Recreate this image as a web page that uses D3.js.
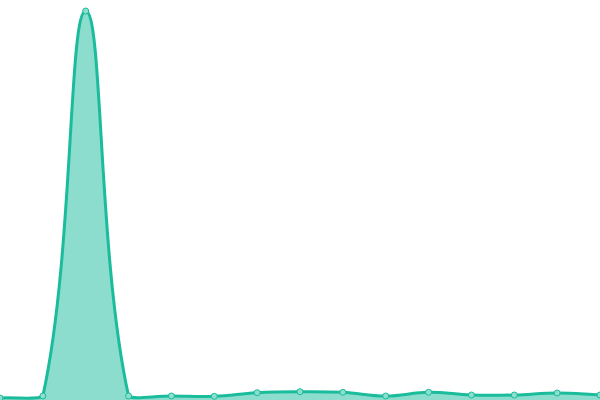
<!DOCTYPE html>
<html>
<head>
<meta charset="utf-8">
<script src="https://d3js.org/d3.v7.min.js"></script>
<style>
  html, body { margin: 0; padding: 0; background: #fff; }
  svg { display: block; }
</style>
</head>
<body>
<div id="chart"></div>
<script>
// categories along x (no visible axis)
var labels = ["1", "2", "3", "4", "5", "6", "7", "8", "9", "10", "11", "12", "13", "14", "15"];
// series values
var values = [2, 4, 389, 4, 4, 3.7, 7.3, 8.3, 7.7, 4, 7.7, 5, 5, 7, 5];
var yMax = 400;

var width = 600, height = 400;

var svg = d3.select("#chart").append("svg")
  .attr("width", width)
  .attr("height", height);

var x = d3.scalePoint().domain(labels).range([0, width]);
var y = d3.scaleLinear().domain([0, yMax]).range([height, 0]);

// spline with tension 0.4, control points kept inside the plot area
function splineCurve(tension, area) {
  function Curve(context) { this._context = context; }
  Curve.prototype = {
    areaStart: function() { this._line = 0; },
    areaEnd: function() { this._line = NaN; },
    lineStart: function() { this._pts = []; },
    point: function(px, py) { this._pts.push([+px, +py]); },
    lineEnd: function() {
      var p = this._pts, n = p.length, c = this._context;
      if (n) {
        if (this._line) c.lineTo(p[0][0], p[0][1]); else c.moveTo(p[0][0], p[0][1]);
        var cps = p.map(function(cur, i) {
          var prev = p[i - 1] || cur, next = p[i + 1] || cur;
          var d01 = Math.hypot(cur[0] - prev[0], cur[1] - prev[1]);
          var d12 = Math.hypot(next[0] - cur[0], next[1] - cur[1]);
          var s01 = d01 / (d01 + d12), s12 = d12 / (d01 + d12);
          if (isNaN(s01)) s01 = 0;
          if (isNaN(s12)) s12 = 0;
          var fa = tension * s01, fb = tension * s12;
          var cap = function(v, lo, hi) { return Math.max(lo, Math.min(hi, v)); };
          return {
            prev: [cap(cur[0] - fa * (next[0] - prev[0]), area[0], area[2]),
                   cap(cur[1] - fa * (next[1] - prev[1]), area[1], area[3])],
            next: [cap(cur[0] + fb * (next[0] - prev[0]), area[0], area[2]),
                   cap(cur[1] + fb * (next[1] - prev[1]), area[1], area[3])]
          };
        });
        for (var i = 1; i < n; i++) {
          c.bezierCurveTo(cps[i - 1].next[0], cps[i - 1].next[1],
                          cps[i].prev[0], cps[i].prev[1],
                          p[i][0], p[i][1]);
        }
      }
      if (this._line || (this._line !== 0 && n === 1)) c.closePath();
      this._line = 1 - this._line;
    }
  };
  return function(context) { return new Curve(context); };
}

var curve = splineCurve(0.4, [0, 0, width, height]);

var areaGen = d3.area()
  .x(function(d, i) { return x(labels[i]); })
  .y0(y(0))
  .y1(function(d) { return y(d); })
  .curve(curve);

var lineGen = d3.line()
  .x(function(d, i) { return x(labels[i]); })
  .y(function(d) { return y(d); })
  .curve(curve);

svg.append("path")
  .datum(values)
  .attr("d", areaGen)
  .attr("fill", "rgba(26,188,156,0.5)");

svg.append("path")
  .datum(values)
  .attr("d", lineGen)
  .attr("fill", "none")
  .attr("stroke", "#1abc9c")
  .attr("stroke-width", 3);

svg.selectAll("circle.pt")
  .data(values)
  .enter().append("circle")
    .attr("class", "pt")
    .attr("cx", function(d, i) { return x(labels[i]); })
    .attr("cy", function(d) { return y(d); })
    .attr("r", 3)
    .attr("fill", "#8ddecd")
    .attr("stroke", "#1abc9c")
    .attr("stroke-width", 1);
</script>
</body>
</html>
